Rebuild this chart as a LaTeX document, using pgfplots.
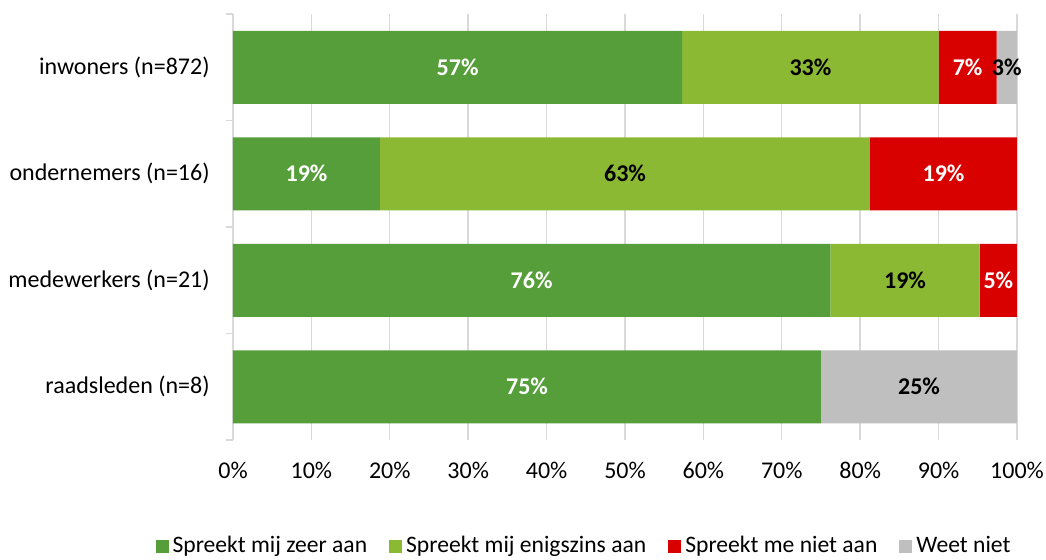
\documentclass[border=0pt]{standalone}
\usepackage{pgfplots}
\pgfplotsset{compat=1.18}
\usepackage{fontspec}
\setmainfont{Carlito}

\definecolor{dgreen}{HTML}{559E3A}
\definecolor{lgreen}{HTML}{8CB934}
\definecolor{cred}{HTML}{D90000}
\definecolor{cgray}{HTML}{BFBFBF}
\definecolor{gridc}{HTML}{D9D9D9}

\begin{document}
\fontsize{12}{14}\selectfont
\begin{tikzpicture}
\useasboundingbox (-116.5pt,-59.5pt) rectangle (406.5pt,220pt);
\begin{axis}[
    at={(0,0)}, anchor=south west,
    scale only axis, width=392pt, height=213pt,
    xbar stacked, bar width=36.5pt,
    xmin=0, xmax=100, ymin=-0.5, ymax=3.5, y dir=reverse,
    clip=false,
    axis lines*=left,
    x axis line style={draw=none},
    y axis line style={draw=gridc, line width=0.7pt},
    tick align=outside,
    major tick length=0pt,
    xtick={0,10,...,100},
    xticklabels={0\%,10\%,20\%,30\%,40\%,50\%,60\%,70\%,80\%,90\%,100\%},
    xticklabel style={yshift=-7pt},
    xmajorgrids, grid style={draw=gridc, line width=0.7pt},
    ytick={0,1,2,3},
    yticklabels={inwoners (n=872),ondernemers (n=16),medewerkers (n=21),raadsleden (n=8)},
    yticklabel style={xshift=-7.5pt},
    extra y ticks={-0.5,0.5,1.5,2.5,3.5},
    extra y tick labels={},
    extra y tick style={major tick length=3.5pt, tick style={draw=gridc, line width=0.7pt}},
    tick label style={font=\fontsize{12}{14}\selectfont},
    /pgf/number format/assume math mode=true,
    visualization depends on={value \thisrow{v} \as \segval},
    nodes near coords={\ifdim\segval pt>0.1pt \pgfmathprintnumber[fixed,precision=0]{\segval}\%\fi},
    every node near coord/.append style={anchor=center, font=\fontsize{12}{14}\selectfont\bfseries},
    legend style={at={(0.449,-0.249)}, anchor=center, draw=none, fill=none,
        legend columns=4, font=\fontsize{11.8}{14}\selectfont,
        /tikz/every even column/.append style={column sep=9pt}},
    legend image code/.code={\fill[#1] (0pt,-3.25pt) rectangle (6.5pt,3.25pt);},
]
\addplot[fill=dgreen, draw=none, every node near coord/.append style={text=white}] table[x=v, y=c] {
c v
0 57.3
1 18.75
2 76.19
3 75
};
\addlegendentry{Spreekt mij zeer aan}
\addplot[fill=lgreen, draw=none, every node near coord/.append style={text=black}] table[x=v, y=c] {
c v
0 32.7
1 62.5
2 19.05
3 0
};
\addlegendentry{Spreekt mij enigszins aan}
\addplot[fill=cred, draw=none, every node near coord/.append style={text=white}] table[x=v, y=c] {
c v
0 7.4
1 18.75
2 4.76
3 0
};
\addlegendentry{Spreekt me niet aan}
\addplot[fill=cgray, draw=none, every node near coord/.append style={text=black}] table[x=v, y=c] {
c v
0 2.6
1 0
2 0
3 25
};
\addlegendentry{Weet niet}
\end{axis}
\end{tikzpicture}
\end{document}
